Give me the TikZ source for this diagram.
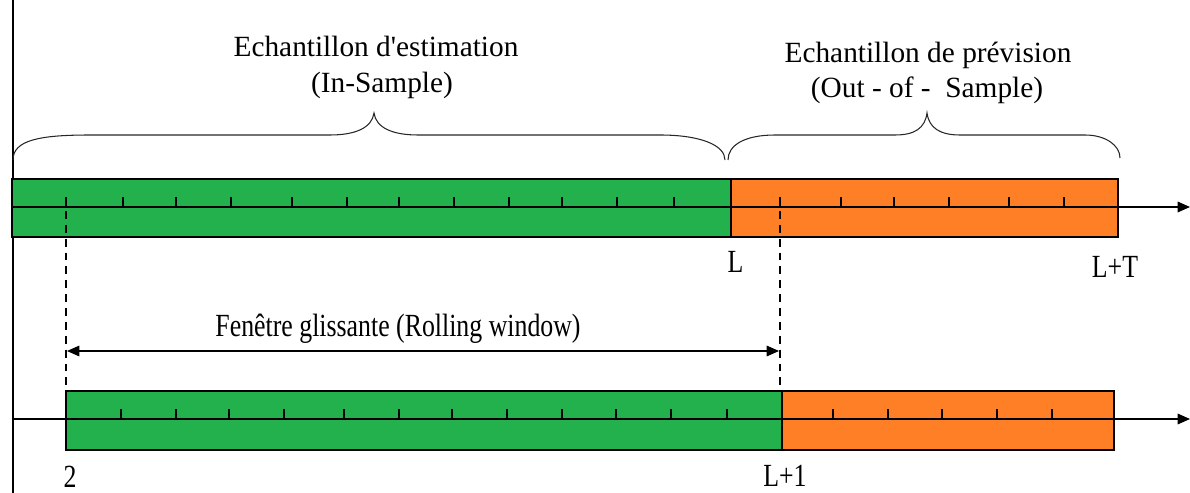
\documentclass[tikz,border=0pt]{standalone}
\usepackage{fontspec}
\setmainfont{Liberation Serif}
\usepackage{graphicx}
\usetikzlibrary{arrows.meta}
\definecolor{bargreen}{RGB}{34,177,76}
\definecolor{barorange}{RGB}{255,127,39}
\newcommand\tallText[1]{\scalebox{1}[1.25]{#1}}
\begin{document}
\begin{tikzpicture}[x=0.02cm,y=-0.02cm,
  barbox/.style={draw=black,line width=0.85pt},
  axisline/.style={line width=0.85pt,-{Triangle[length=7pt,width=6pt]}},
  ticklin/.style={line width=1pt},
  dashline/.style={line width=0.75pt,dash pattern=on 4.5pt off 3.4pt},
  bracelin/.style={line width=0.6pt,draw=black!85},
  winarrow/.style={line width=0.7pt,{Triangle[length=7pt,width=6pt]}-{Triangle[length=7pt,width=6pt]}},
  toptext/.style={font=\fontsize{16.7}{20}\selectfont,anchor=base,inner sep=0pt},
  lbl/.style={font=\fontsize{14.7}{17}\selectfont,anchor=base,inner sep=0pt}]
\useasboundingbox (0,0) rectangle (1190,493);

% left vertical line
\coordinate (vt) at (13,0);
\coordinate (vb) at (13,493);
\draw[line width=0.85pt] (vt) -- (vb);

% top bar
\draw[barbox,fill=bargreen] (12,179) rectangle (731,237);
\draw[barbox,fill=barorange] (731,179) rectangle (1118,237);
\coordinate (ta0) at (12,207);
\coordinate (ta1) at (1190,207);
\draw[axisline] (ta0) -- (ta1);
\foreach \x in {66,123,176,231,292,347,399,454,509,562,617,674,780,841,894,949,1009,1064}
  \draw[ticklin] (\x,197) -- (\x,207);

% bottom bar
\draw[barbox,fill=bargreen] (66,391) rectangle (782,450);
\draw[barbox,fill=barorange] (782,391) rectangle (1114,450);
\coordinate (ba0) at (13,419);
\coordinate (ba1) at (1190,419);
\draw[axisline] (ba0) -- (ba1);
\foreach \x in {121,176,229,284,344,399,452,507,562,616,671,727,833,888,942,997,1052}
  \draw[ticklin] (\x,409) -- (\x,419);

% braces
\draw[bracelin] (13,160) .. controls (13,140) and (40,135) .. (90,135) -- (330,135)
  .. controls (355,135) and (372,128) .. (374,113)
  .. controls (376,128) and (393,135) .. (418,135) -- (660,135)
  .. controls (700,135) and (725,145) .. (725,160);
\draw[bracelin] (728,160) .. controls (728,145) and (745,135) .. (775,135) -- (895,135)
  .. controls (915,135) and (925,128) .. (927,113)
  .. controls (929,128) and (940,135) .. (960,135) -- (1085,135)
  .. controls (1105,135) and (1120,145) .. (1120,158);

% dashed lines
\coordinate (d1t) at (66,197);
\coordinate (d1b) at (66,391);
\coordinate (d2t) at (780,197);
\coordinate (d2b) at (780,391);
\draw[dashline] (d1t) -- (d1b);
\draw[dashline] (d2t) -- (d2b);

% rolling window arrow
\coordinate (wl) at (67,351);
\coordinate (wr) at (779,351);
\draw[winarrow] (wl) -- (wr);

% texts
\node[toptext] (t1) at (376,57) {Echantillon d\textquotesingle estimation};
\node[toptext] (t2) at (382,93) {(In-Sample)};
\node[toptext] (t3) at (928,63) {Echantillon de prévision};
\node[toptext] (t4) at (927,98) {(Out - of -\ \ Sample)};
\node[lbl] (fw) at (398,337) {\tallText{Fenêtre glissante (Rolling window)}};
\node[lbl] (lL) at (735.5,273) {\tallText{L}};
\node[lbl] (lLT) at (1115,277) {\tallText{L+T}};
\node[lbl] (l2) at (70,487) {\tallText{2}};
\node[lbl] (lL1) at (785,486) {\tallText{L+1}};
\end{tikzpicture}
\end{document}
